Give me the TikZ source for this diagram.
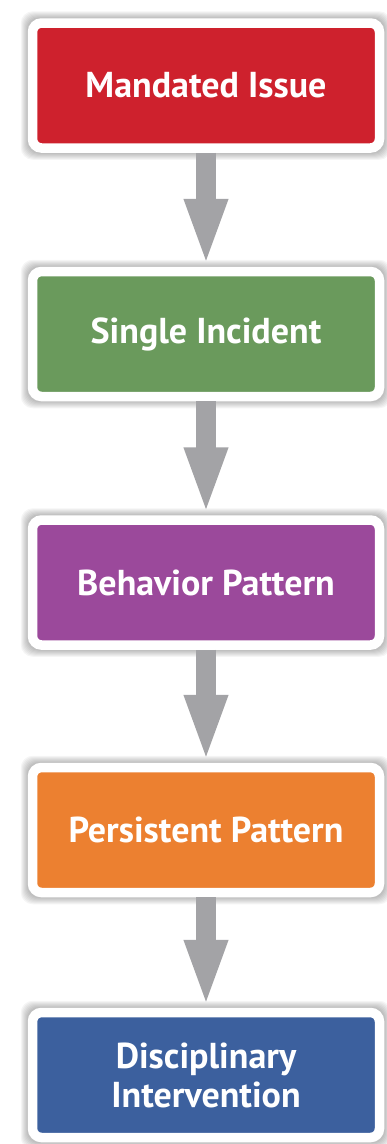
\documentclass[tikz,border=0pt]{standalone}
\usepackage{fontspec}
\setmainfont{PT Sans}
\usetikzlibrary{positioning,arrows.meta,calc,backgrounds}
\definecolor{issuered}{RGB}{206,33,45}
\definecolor{incidentgreen}{RGB}{106,154,92}
\definecolor{behaviorpurple}{RGB}{155,73,155}
\definecolor{persistorange}{RGB}{236,128,48}
\definecolor{disciplineblue}{RGB}{60,96,158}
\definecolor{arrowgray}{RGB}{163,163,166}
\tikzset{
    stage/.style = {
        draw=white,
        shape=rectangle,
        rounded corners=9pt,
        line width=9.5pt,
        minimum width=347pt,
        minimum height=125pt,
        inner sep=0pt,
        text=white,
        font=\bfseries\fontsize{36}{39}\selectfont,
        align=center
    },
    flow/.style = {
        draw=arrowgray,
        line width=20pt,
        -{Triangle[width=39pt,length=68pt]}
    },
    halo/.style = {
        fill=black,
        opacity=0.04,
        rounded corners=12pt
    },
}

\begin{document}
\begin{tikzpicture}[x=1pt,y=-1pt]
                \useasboundingbox (0,0) rectangle (386,1144);

                \node[stage, fill=issuered] (mandated) at (206,85.5) {Mandated Issue};
                \node[stage, fill=incidentgreen] (single) at (206,334) {Single Incident};
                \node[stage, fill=behaviorpurple] (behavior) at (206,582.5) {Behavior Pattern};
                \node[stage, fill=persistorange] (persistent) at (206,830) {Persistent Pattern};
                \node[stage, fill=disciplineblue] (disciplinary) at (206,1075) {Disciplinary\\Intervention};

                \path[flow] (mandated) -- (single);
                \path[flow] (single) -- (behavior);
                \path[flow] (behavior) -- (persistent);
                \path[flow] (persistent) -- (disciplinary);

                % soft grey glow behind the boxes
                \begin{scope}[on background layer]
                    \foreach \n in {mandated,single,behavior,persistent,disciplinary}
                        \foreach \k in {1,...,7}
                            \path[halo] ($(\n.south west)+(-\k,\k)$) rectangle ($(\n.north east)+(\k,-\k)$);
                \end{scope}
            \end{tikzpicture}
\end{document}
